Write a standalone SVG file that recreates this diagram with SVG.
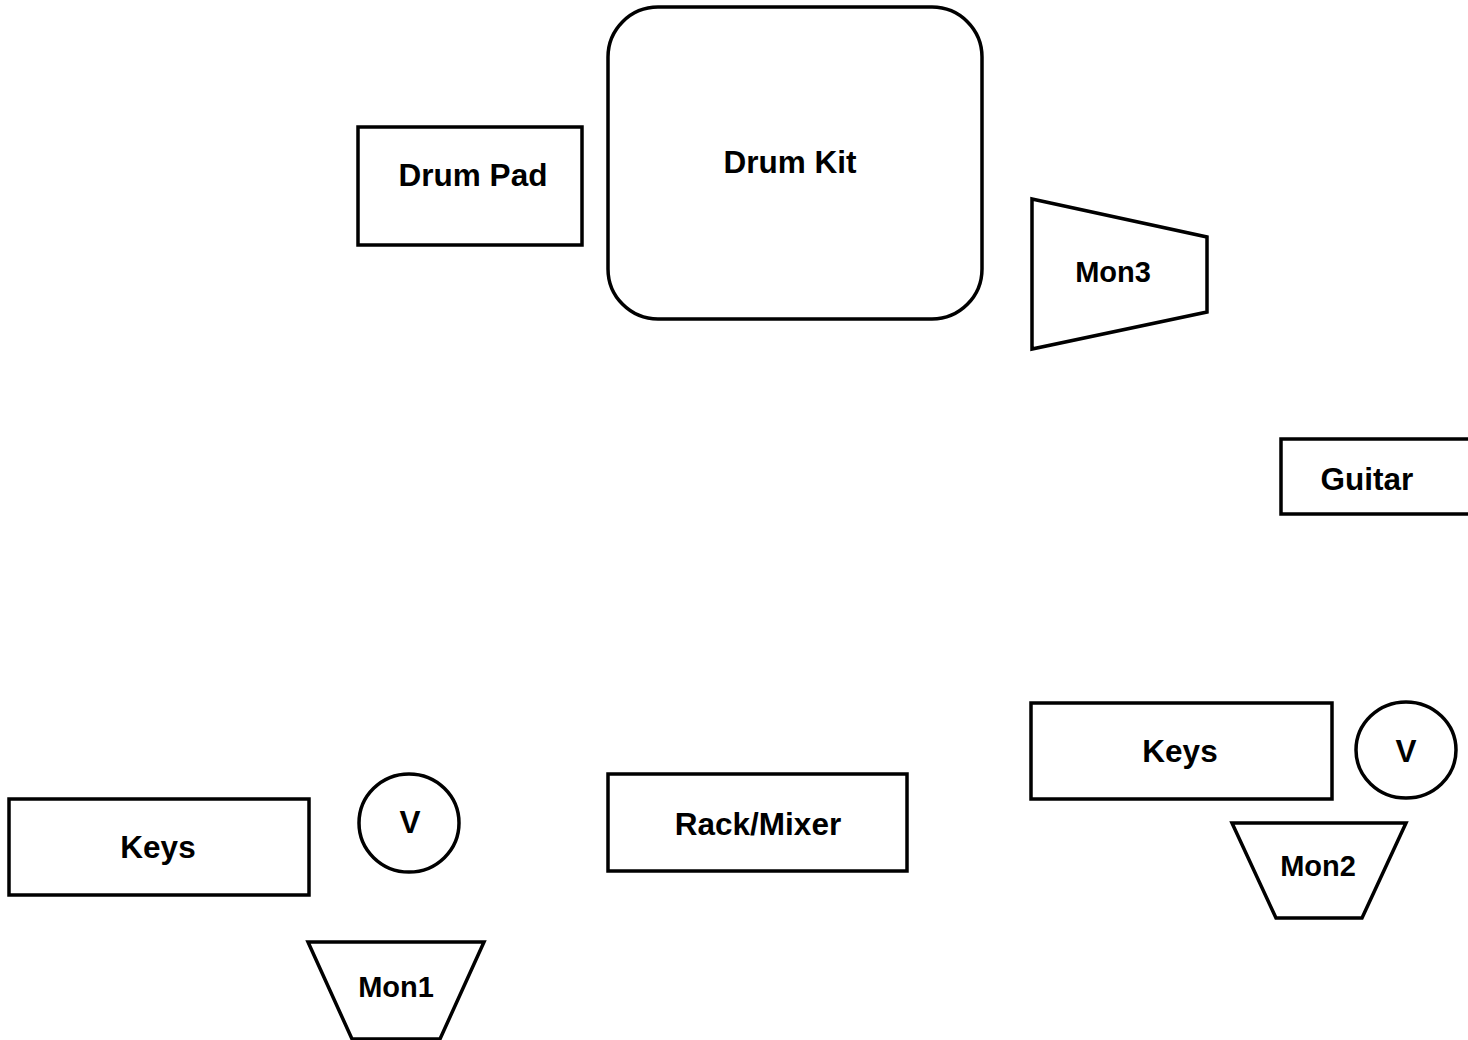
<svg xmlns="http://www.w3.org/2000/svg" width="1468" height="1040" viewBox="0 0 1468 1040">
<style>
.s{fill:#fff;stroke:#000;stroke-width:3.5}
.t{font-family:"Liberation Sans",Arial,sans-serif;font-weight:bold;font-size:31.5px;fill:#000;text-anchor:middle}
.m{font-size:29px}
</style>
<rect width="1468" height="1040" fill="#fff"/>
<g id="connectors"></g>
<g id="drumpad"><rect class="s" x="358" y="127" width="224" height="118"/><text class="t" x="473" y="186">Drum Pad</text></g>
<g id="drumkit"><rect class="s" x="608" y="7" width="374" height="312" rx="50" ry="50"/><text class="t" x="790" y="173">Drum Kit</text></g>
<g id="mon3"><polygon class="s" points="1032,199 1207,237 1207,312 1032,349"/><text class="t m" x="1113" y="282">Mon3</text></g>
<g id="guitar"><rect class="s" x="1281" y="439" width="200" height="75"/><text class="t" x="1367" y="490">Guitar</text></g>
<g id="keys1"><rect class="s" x="9" y="799" width="300" height="96"/><text class="t" x="158" y="858">Keys</text></g>
<g id="v1"><ellipse class="s" cx="409" cy="823" rx="50" ry="49"/><text class="t" x="410" y="833">V</text></g>
<g id="mon1"><polygon class="s" points="308,942 484,942 440,1039 352,1039"/><text class="t m" x="396" y="997">Mon1</text></g>
<g id="rack"><rect class="s" x="608" y="774" width="299" height="97"/><text class="t" x="758" y="835">Rack/Mixer</text></g>
<g id="keys2"><rect class="s" x="1031" y="703" width="301" height="96"/><text class="t" x="1180" y="762">Keys</text></g>
<g id="v2"><ellipse class="s" cx="1406" cy="750" rx="50" ry="48"/><text class="t" x="1406" y="762">V</text></g>
<g id="mon2"><polygon class="s" points="1232,823 1406,823 1362,918 1276,918"/><text class="t m" x="1318" y="876">Mon2</text></g>
</svg>
